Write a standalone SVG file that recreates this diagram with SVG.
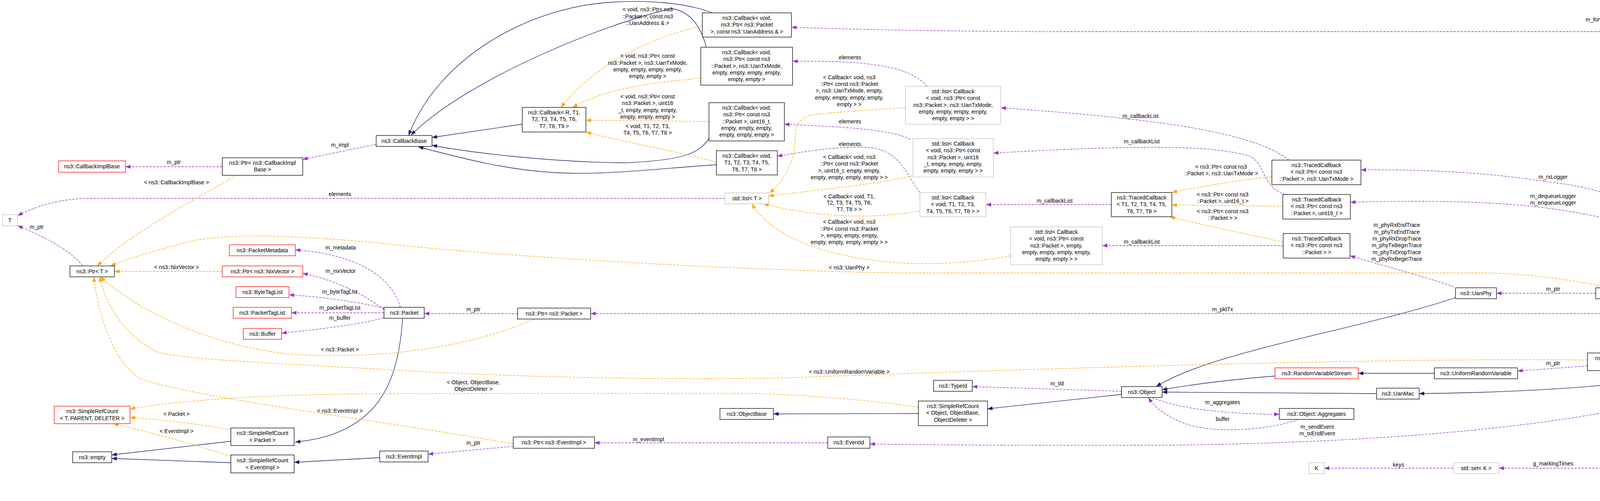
<svg xmlns="http://www.w3.org/2000/svg" width="4589" height="1283" viewBox="0 0 4589 1283">
<style>
text{font-family:"Liberation Sans",Arial,sans-serif;font-size:14px;fill:#000;text-anchor:middle}
.b{fill:#fff;stroke:#000;stroke-width:1.3}
.r{fill:#fff;stroke:#f00;stroke-width:1.3}
.g{fill:#fff;stroke:#bfbfbf;stroke-width:1.3}
.m{fill:#bfbfbf;stroke:#000;stroke-width:1.3}
.p{fill:none;stroke:#9a32cd;stroke-width:1.3;stroke-dasharray:6,3}
.o{fill:none;stroke:#ffa500;stroke-width:1.3;stroke-dasharray:6,3}
.i{fill:none;stroke:#191970;stroke-width:1.3}
.p{marker-end:url(#mp)}.o{marker-end:url(#mo)}.i{marker-end:url(#mi)}
</style>
<defs>
<marker id="mp" markerUnits="userSpaceOnUse" markerWidth="14" markerHeight="10" refX="13" refY="5" orient="auto"><path d="M0,0L13,5L0,10z" fill="#9a32cd"/></marker>
<marker id="mo" markerUnits="userSpaceOnUse" markerWidth="14" markerHeight="10" refX="13" refY="5" orient="auto"><path d="M0,0L13,5L0,10z" fill="#ffa500"/></marker>
<marker id="mi" markerUnits="userSpaceOnUse" markerWidth="14" markerHeight="10" refX="13" refY="5" orient="auto"><path d="M0,0L13,5L0,10z" fill="#191970"/></marker>
</defs>
<rect width="4589" height="1283" fill="#fff"/>
<g id="edges">
<path class="i" d="M1337,318L1106,352"/>
<path class="i" d="M1824,33C1750,5 1650,0 1560,6C1350,20 1120,150 1046,347"/>
<path class="i" d="M1808,121C1795,70 1770,30 1720,22C1550,60 1200,200 1052,346"/>
<path class="i" d="M1815,355C1790,390 1760,410 1600,417C1400,415 1200,390 1106,372"/>
<path class="i" d="M1834,422C1700,430 1550,450 1420,442C1300,435 1200,410 1071,376"/>
<path class="i" d="M1031,815C1020,950 990,1110 756,1132"/>
<path class="i" d="M591,1130L286,1165"/>
<path class="i" d="M591,1185L286,1174"/>
<path class="i" d="M972,1172L753,1184"/>
<path class="i" d="M2351,1059L1980,1060"/>
<path class="i" d="M2871,1010L2528,1047"/>
<path class="i" d="M3264,963C3150,972 3050,985 2975,998"/>
<path class="i" d="M3672,956L3477,956"/>
<path class="i" d="M3524,1008C3300,1006 3100,1005 2975,1004"/>
<path class="i" d="M3726,762C3500,840 3100,900 2960,990"/>
<path class="i" d="M4454,936C4200,990 3900,1005 3633,1008"/>
<path class="i" d="M4516,941C4500,1050 4470,1110 4410,1120C4350,1130 4300,1135 4261,1140"/>

<path class="p" d="M569,427L321,427"/><text x="445" y="420">m_ptr</text>
<path class="p" d="M962,370L775,408"/><text x="870" y="376">m_impl</text>
<path class="p" d="M1856,508L230,508C150,508 90,530 45,552"/><text x="870" y="502">elements</text>
<path class="p" d="M212,681C180,640 100,600 45,578"/><text x="94" y="586">m_ptr</text>
<path class="p" d="M1025,787C1000,700 900,650 756,640"/><text x="872" y="639">m_metadata</text>
<path class="p" d="M983,793C940,760 870,720 775,700"/><text x="872" y="699">m_nixVector</text>
<path class="p" d="M983,789C900,770 820,760 740,755"/><text x="870" y="752">m_byteTagList</text>
<path class="p" d="M983,801L746,801"/><text x="870" y="793">m_packetTagList</text>
<path class="p" d="M983,814C900,835 800,845 721,853"/><text x="870" y="819">m_buffer</text>
<path class="p" d="M1325,803L1086,803"/><text x="1212" y="797">m_ptr</text>
<path class="p" d="M4493,912C4430,850 4320,803 4194,803L1512,803"/><text x="3130" y="797">m_pktTx</text>
<path class="p" d="M1314,1143L1096,1163"/><text x="1212" y="1139">m_ptr</text>
<path class="p" d="M2119,1134L1522,1134"/><text x="1660" y="1130">m_eventImpl</text>
<path class="p" d="M4487,941C4300,1050 3800,1130 3000,1140C2700,1141 2400,1140 2227,1137"/><text x="3372" y="1098">m_sendEvent</text><text x="3372" y="1115">m_txEndEvent</text>
<path class="p" d="M2871,1002L2489,990"/><text x="2706" y="987">m_tid</text>
<path class="p" d="M2950,1018C3000,1040 3100,1060 3275,1061"/><text x="3130" y="1035">m_aggregates</text>
<path class="p" d="M3325,1074C3250,1100 3130,1110 3050,1090C3000,1075 2960,1050 2940,1018"/><text x="3130" y="1078">buffer</text>
<path class="p" d="M2373,221C2330,170 2230,155 2029,157"/><text x="2176" y="152">elements</text>
<path class="p" d="M2330,357C2280,330 2150,325 2008,318"/><text x="2176" y="316">elements</text>
<path class="p" d="M2355,493C2320,450 2310,390 2230,378C2150,372 2050,390 1990,400"/><text x="2176" y="374">elements</text>
<path class="p" d="M3300,410C3200,330 2900,300 2562,276"/><text x="2920" y="302">m_callbackList</text>
<path class="p" d="M3290,498C3230,480 3240,420 3200,400C3100,370 2900,372 2543,392"/><text x="2923" y="367">m_callbackList</text>
<path class="p" d="M2845,524L2524,524"/><text x="2700" y="519">m_callbackList</text>
<path class="p" d="M3285,629L2822,629"/><text x="2923" y="624">m_callbackList</text>
<path class="p" d="M4512,912C4490,760 4440,660 4368,616C4250,540 4100,480 3986,469C3800,440 3650,434 3484,435"/><text x="3976" y="458">m_rxLogger</text>
<path class="p" d="M4508,912C4470,780 4440,720 4368,675C4280,610 4200,580 4125,563C3950,520 3750,510 3457,518"/><text x="3976" y="507">m_dequeueLogger</text><text x="3976" y="524">m_enqueueLogger</text>
<path class="p" d="M3722,734C3620,700 3520,675 3456,655"/>
<text x="3576" y="581">m_phyRxEndTrace</text><text x="3576" y="599">m_phyTxEndTrace</text><text x="3576" y="616">m_phyRxDropTrace</text><text x="3576" y="633">m_phyTxBeginTrace</text><text x="3576" y="651">m_phyTxDropTrace</text><text x="3576" y="668">m_phyRxBeginTrace</text>
<path class="p" d="M4085,751L3831,751"/><text x="3976" y="745">m_ptr</text>
<path class="p" d="M4500,912C4470,830 4390,760 4274,745"/><text x="4375" y="743">m_phy</text>
<path class="p" d="M4516,912C4470,600 4400,180 4290,110C4250,85 4220,81 4187,81L2700,81C2300,80 2100,72 2026,70"/><text x="4110" y="55">m_forwardUpCb</text>
<path class="p" d="M4454,926L4295,926"/><text x="4376" y="922">m_rv</text>
<path class="p" d="M4064,937L3885,950"/><text x="3976" y="935">m_ptr</text>
<path class="p" d="M4510,941C4490,1100 4460,1200 4390,1220C4320,1230 4260,1225 4230,1213"/><text x="4376" y="1152">m_sendTime</text><text x="4376" y="1169">m_slotTime</text><text x="4376" y="1187">m_savedDelayS</text>
<path class="p" d="M4136,1199L3837,1199"/><text x="3976" y="1192">g_markingTimes</text>
<path class="p" d="M3720,1199L3390,1199"/><text x="3580" y="1195">keys</text>
<path class="p" d="M4513,941C4500,1150 4470,1250 4410,1275C4340,1285 4280,1280 4240,1266"/><text x="4376" y="1241">m_address</text>

<path class="o" d="M606,449C500,510 330,600 249,681"/><text x="452" y="472">&lt; ns3::CallbackImplBase &gt;</text>
<path class="o" d="M569,695L293,695"/><text x="452" y="689">&lt; ns3::NixVector &gt;</text>
<path class="o" d="M1368,817C1200,890 1000,915 800,910C600,905 380,820 257,709"/><text x="870" y="900">&lt; ns3::Packet &gt;</text>
<path class="o" d="M1314,1137C1000,1080 500,1020 360,970C290,930 250,800 240,709"/><text x="870" y="1057">&lt; ns3::EventImpl &gt;</text>
<path class="o" d="M4064,922C3500,915 2500,950 2000,968C1600,975 1200,960 1000,947C700,930 450,920 400,900C320,860 270,780 255,709"/><text x="2174" y="957">&lt; ns3::UniformRandomVariable &gt;</text>
<path class="o" d="M4111,735C4000,712 3900,701 3800,699L2300,699C1800,690 1200,650 950,620C700,600 600,600 500,615C400,640 320,665 283,681"/><text x="2174" y="690">&lt; ns3::UanPhy &gt;</text>
<path class="o" d="M2351,1043C2200,1020 2000,1008 1900,1007L1000,1008C700,1010 500,1020 333,1047"/><text x="1212" y="984">&lt; Object, ObjectBase,</text><text x="1212" y="1001">ObjectDeleter &gt;</text>
<path class="o" d="M591,1100C500,1085 420,1075 333,1069"/><text x="452" y="1065">&lt; Packet &gt;</text>
<path class="o" d="M591,1168C500,1140 400,1110 290,1085"/><text x="452" y="1109">&lt; EventImpl &gt;</text>
<path class="o" d="M1798,66C1650,100 1520,170 1436,275"/><text x="1658" y="29">&lt; void, ns3::Ptr&lt; ns3</text><text x="1658" y="47">::Packet &gt;, const ns3</text><text x="1658" y="64">::UanAddress &amp; &gt;</text>
<path class="o" d="M1794,200C1700,210 1560,220 1466,275"/><text x="1658" y="148">&lt; void, ns3::Ptr&lt; const</text><text x="1658" y="166">ns3::Packet &gt;, ns3::UanTxMode,</text><text x="1658" y="183">empty, empty, empty, empty,</text><text x="1658" y="200">empty, empty &gt;</text>
<path class="o" d="M1815,311L1500,308"/><text x="1658" y="252">&lt; void, ns3::Ptr&lt; const</text><text x="1658" y="269">ns3::Packet &gt;, uint16</text><text x="1658" y="287">_t, empty, empty, empty,</text><text x="1658" y="304">empty, empty, empty &gt;</text>
<path class="o" d="M1834,415C1700,380 1580,360 1500,338"/><text x="1658" y="328">&lt; void, T1, T2, T3,</text><text x="1658" y="345">T4, T5, T6, T7, T8 &gt;</text>
<path class="o" d="M2318,275C2200,285 2100,288 2065,298C2040,310 2035,330 2035,360C2035,420 2000,470 1970,494"/><text x="2174" y="203">&lt; Callback&lt; void, ns3</text><text x="2174" y="220">::Ptr&lt; const ns3::Packet</text><text x="2174" y="237">&gt;, ns3::UanTxMode, empty,</text><text x="2174" y="255">empty, empty, empty, empty,</text><text x="2174" y="272">empty &gt; &gt;</text>
<path class="o" d="M2337,450C2250,470 2150,480 1968,502"/><text x="2174" y="407">&lt; Callback&lt; void, ns3</text><text x="2174" y="424">::Ptr&lt; const ns3::Packet</text><text x="2174" y="442">&gt;, uint16_t, empty, empty,</text><text x="2174" y="459">empty, empty, empty, empty &gt; &gt;</text>
<path class="o" d="M2355,540C2250,560 2100,560 1955,522"/><text x="2174" y="508">&lt; Callback&lt; void, T1,</text><text x="2174" y="524">T2, T3, T4, T5, T6,</text><text x="2174" y="541">T7, T8 &gt; &gt;</text>
<path class="o" d="M2587,655C2400,690 2200,680 2050,620C1980,590 1940,550 1925,522"/><text x="2174" y="573">&lt; Callback&lt; void, ns3</text><text x="2174" y="591">::Ptr&lt; const ns3::Packet</text><text x="2174" y="608">&gt;, empty, empty, empty,</text><text x="2174" y="625">empty, empty, empty, empty &gt; &gt;</text>
<path class="o" d="M3256,452C3150,465 3060,480 3000,493"/><text x="3126" y="432">&lt; ns3::Ptr&lt; const ns3</text><text x="3126" y="449">::Packet &gt;, ns3::UanTxMode &gt;</text>
<path class="o" d="M3284,528L3000,525"/><text x="3130" y="503">&lt; ns3::Ptr&lt; const ns3</text><text x="3130" y="520">::Packet &gt;, uint16_t &gt;</text>
<path class="o" d="M3285,620C3150,590 3050,570 2995,555"/><text x="3130" y="546">&lt; ns3::Ptr&lt; const ns3</text><text x="3130" y="563">::Packet &gt; &gt;</text>
</g>

<g id="n_cib"><rect class="r" x="150" y="412" width="171" height="29"/><text x="235.5" y="431">ns3::CallbackImplBase</text></g>
<g id="n_ptrcib"><rect class="b" x="569" y="404" width="206" height="45"/><text x="672" y="422">ns3::Ptr&lt; ns3::CallbackImpl</text><text x="672" y="439">Base &gt;</text></g>
<g id="n_T"><rect class="g" x="6" y="550" width="39" height="28"/><text x="25.5" y="569">T</text></g>
<g id="n_ptrT"><rect class="b" x="179" y="681" width="114" height="28"/><text x="236" y="700">ns3::Ptr&lt; T &gt;</text></g>
<g id="n_meta"><rect class="r" x="587" y="627" width="169" height="28"/><text x="671.5" y="646">ns3::PacketMetadata</text></g>
<g id="n_nix"><rect class="r" x="569" y="681" width="206" height="28"/><text x="672" y="700">ns3::Ptr&lt; ns3::NixVector &gt;</text></g>
<g id="n_btl"><rect class="r" x="604" y="734" width="136" height="28"/><text x="672" y="753">ns3::ByteTagList</text></g>
<g id="n_ptl"><rect class="r" x="597" y="787" width="149" height="28"/><text x="671.5" y="806">ns3::PacketTagList</text></g>
<g id="n_buf"><rect class="r" x="623" y="841" width="98" height="28"/><text x="672" y="860">ns3::Buffer</text></g>
<g id="n_srctpd"><rect class="r" x="139" y="1040" width="194" height="45"/><text x="236" y="1058">ns3::SimpleRefCount</text><text x="236" y="1076">&lt; T, PARENT, DELETER &gt;</text></g>
<g id="n_srcp"><rect class="b" x="591" y="1096" width="162" height="45"/><text x="672" y="1114">ns3::SimpleRefCount</text><text x="672" y="1132">&lt; Packet &gt;</text></g>
<g id="n_empty"><rect class="b" x="186" y="1157" width="100" height="28"/><text x="236" y="1176">ns3::empty</text></g>
<g id="n_srce"><rect class="b" x="591" y="1165" width="162" height="46"/><text x="672" y="1184">ns3::SimpleRefCount</text><text x="672" y="1202">&lt; EventImpl &gt;</text></g>
<g id="n_eventimpl"><rect class="b" x="972" y="1155" width="124" height="28"/><text x="1034" y="1174">ns3::EventImpl</text></g>
<g id="n_cbase"><rect class="b" x="963" y="347" width="143" height="28"/><text x="1034.5" y="366">ns3::CallbackBase</text></g>
<g id="n_cbR"><rect class="b" x="1337" y="275" width="163" height="63"/><text x="1418.5" y="293">ns3::Callback&lt; R, T1,</text><text x="1418.5" y="310">T2, T3, T4, T5, T6,</text><text x="1418.5" y="328">T7, T8, T9 &gt;</text></g>
<g id="n_cbUA"><rect class="b" x="1798" y="33" width="228" height="62"/><text x="1912" y="51">ns3::Callback&lt; void,</text><text x="1912" y="68">ns3::Ptr&lt; ns3::Packet</text><text x="1912" y="86">&gt;, const ns3::UanAddress &amp; &gt;</text></g>
<g id="n_cbTx"><rect class="b" x="1794" y="121" width="235" height="97"/><text x="1911.5" y="139">ns3::Callback&lt; void,</text><text x="1911.5" y="156">ns3::Ptr&lt; const ns3</text><text x="1911.5" y="174">::Packet &gt;, ns3::UanTxMode,</text><text x="1911.5" y="191">empty, empty, empty, empty,</text><text x="1911.5" y="208">empty, empty &gt;</text></g>
<g id="n_cb16"><rect class="b" x="1815" y="263" width="193" height="98"/><text x="1911.5" y="281">ns3::Callback&lt; void,</text><text x="1911.5" y="298">ns3::Ptr&lt; const ns3</text><text x="1911.5" y="316">::Packet &gt;, uint16_t,</text><text x="1911.5" y="333">empty, empty, empty,</text><text x="1911.5" y="350">empty, empty, empty &gt;</text></g>
<g id="n_cbT8"><rect class="b" x="1834" y="386" width="156" height="62"/><text x="1912" y="404">ns3::Callback&lt; void,</text><text x="1912" y="421">T1, T2, T3, T4, T5,</text><text x="1912" y="439">T6, T7, T8 &gt;</text></g>
<g id="n_listT"><rect class="g" x="1856" y="494" width="112" height="28"/><text x="1912" y="513">std::list&lt; T &gt;</text></g>
<g id="n_packet"><rect class="b" x="983" y="787" width="103" height="28"/><text x="1034.5" y="806">ns3::Packet</text></g>
<g id="n_ptrpkt"><rect class="b" x="1325" y="789" width="187" height="28"/><text x="1418.5" y="808">ns3::Ptr&lt; ns3::Packet &gt;</text></g>
<g id="n_ptrev"><rect class="b" x="1314" y="1119" width="208" height="29"/><text x="1418" y="1138">ns3::Ptr&lt; ns3::EventImpl &gt;</text></g>
<g id="n_objbase"><rect class="b" x="1843" y="1046" width="137" height="28"/><text x="1911.5" y="1065">ns3::ObjectBase</text></g>
<g id="n_lTx"><rect class="g" x="2318" y="221" width="244" height="97"/><text x="2440" y="239">std::list&lt; Callback</text><text x="2440" y="256">&lt; void, ns3::Ptr&lt; const</text><text x="2440" y="274">ns3::Packet &gt;, ns3::UanTxMode,</text><text x="2440" y="291">empty, empty, empty, empty,</text><text x="2440" y="308">empty, empty &gt; &gt;</text></g>
<g id="n_l16"><rect class="g" x="2337" y="355" width="206" height="98"/><text x="2440" y="373">std::list&lt; Callback</text><text x="2440" y="390">&lt; void, ns3::Ptr&lt; const</text><text x="2440" y="408">ns3::Packet &gt;, uint16</text><text x="2440" y="425">_t, empty, empty, empty,</text><text x="2440" y="442">empty, empty, empty &gt; &gt;</text></g>
<g id="n_lT8"><rect class="g" x="2355" y="493" width="169" height="62"/><text x="2439.5" y="511">std::list&lt; Callback</text><text x="2439.5" y="528">&lt; void, T1, T2, T3,</text><text x="2439.5" y="546">T4, T5, T6, T7, T8 &gt; &gt;</text></g>
<g id="n_lE"><rect class="g" x="2587" y="581" width="235" height="97"/><text x="2704.5" y="599">std::list&lt; Callback</text><text x="2704.5" y="616">&lt; void, ns3::Ptr&lt; const</text><text x="2704.5" y="634">ns3::Packet &gt;, empty,</text><text x="2704.5" y="651">empty, empty, empty, empty,</text><text x="2704.5" y="668">empty, empty &gt; &gt;</text></g>
<g id="n_tcT"><rect class="b" x="2845" y="493" width="155" height="62"/><text x="2922.5" y="511">ns3::TracedCallback</text><text x="2922.5" y="528">&lt; T1, T2, T3, T4, T5,</text><text x="2922.5" y="546">T6, T7, T8 &gt;</text></g>
<g id="n_typeid"><rect class="b" x="2390" y="974" width="99" height="28"/><text x="2439.5" y="993">ns3::TypeId</text></g>
<g id="n_srcobj"><rect class="b" x="2351" y="1027" width="177" height="63"/><text x="2439.5" y="1045">ns3::SimpleRefCount</text><text x="2439.5" y="1062">&lt; Object, ObjectBase,</text><text x="2439.5" y="1080">ObjectDeleter &gt;</text></g>
<g id="n_eventid"><rect class="b" x="2119" y="1119" width="108" height="29"/><text x="2173" y="1138">ns3::EventId</text></g>
<g id="n_object"><rect class="b" x="2871" y="990" width="104" height="28"/><text x="2923" y="1009">ns3::Object</text></g>
<g id="n_tcTx"><rect class="b" x="3256" y="410" width="228" height="63"/><text x="3370" y="428">ns3::TracedCallback</text><text x="3370" y="445">&lt; ns3::Ptr&lt; const ns3</text><text x="3370" y="463">::Packet &gt;, ns3::UanTxMode &gt;</text></g>
<g id="n_tc16"><rect class="b" x="3284" y="498" width="173" height="63"/><text x="3370.5" y="516">ns3::TracedCallback</text><text x="3370.5" y="533">&lt; ns3::Ptr&lt; const ns3</text><text x="3370.5" y="551">::Packet &gt;, uint16_t &gt;</text></g>
<g id="n_tcP"><rect class="b" x="3285" y="598" width="171" height="63"/><text x="3370.5" y="616">ns3::TracedCallback</text><text x="3370.5" y="633">&lt; ns3::Ptr&lt; const ns3</text><text x="3370.5" y="651">::Packet &gt; &gt;</text></g>
<g id="n_uanphy"><rect class="b" x="3726" y="737" width="105" height="28"/><text x="3778.5" y="756">ns3::UanPhy</text></g>
<g id="n_ptrphy"><rect class="b" x="4085" y="737" width="189" height="28"/><text x="4179.5" y="756">ns3::Ptr&lt; ns3::UanPhy &gt;</text></g>
<g id="n_macw"><rect class="m" x="4454" y="912" width="129" height="29"/><text x="4518.5" y="931">ns3::UanMacCw</text></g>
<g id="n_ptrurv"><rect class="b" x="4064" y="904" width="231" height="45"/><text x="4179.5" y="922">ns3::Ptr&lt; ns3::UniformRandom</text><text x="4179.5" y="940">Variable &gt;</text></g>
<g id="n_urv"><rect class="b" x="3672" y="942" width="213" height="28"/><text x="3778.5" y="961">ns3::UniformRandomVariable</text></g>
<g id="n_rvs"><rect class="r" x="3264" y="942" width="213" height="28"/><text x="3370.5" y="961">ns3::RandomVariableStream</text></g>
<g id="n_uanmac"><rect class="b" x="3524" y="994" width="109" height="28"/><text x="3578.5" y="1013">ns3::UanMac</text></g>
<g id="n_agg"><rect class="b" x="3275" y="1046" width="191" height="28"/><text x="3370.5" y="1065">ns3::Object::Aggregates</text></g>
<g id="n_K"><rect class="g" x="3351" y="1185" width="39" height="28"/><text x="3370.5" y="1204">K</text></g>
<g id="n_setK"><rect class="g" x="3721" y="1185" width="116" height="28"/><text x="3779" y="1204">std::set&lt; K &gt;</text></g>
<g id="n_time"><rect class="b" x="4136" y="1185" width="88" height="28"/><text x="4180" y="1204">ns3::Time</text></g>
<g id="n_listener"><rect class="b" x="4099" y="1131" width="162" height="29"/><text x="4180" y="1150">ns3::UanPhyListener</text></g>
<g id="n_uanaddr"><rect class="b" x="4113" y="1238" width="134" height="28"/><text x="4180" y="1257">ns3::UanAddress</text></g>
</svg>
